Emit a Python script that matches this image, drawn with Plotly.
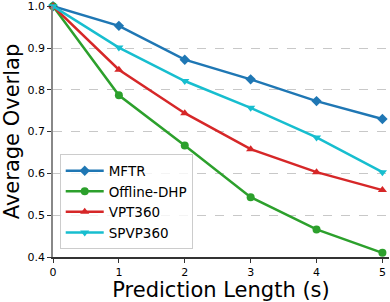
import plotly.graph_objects as go

x = [0, 1, 2, 3, 4, 5]
mftr = [1.0, 0.953, 0.872, 0.825, 0.773, 0.730]
offline_dhp = [1.0, 0.787, 0.667, 0.543, 0.466, 0.410]
vpt360 = [1.0, 0.848, 0.744, 0.658, 0.603, 0.560]
spvp360 = [1.0, 0.901, 0.821, 0.757, 0.686, 0.603]

series = [
    ("MFTR", mftr, "#1f77b4", "diamond"),
    ("Offline-DHP", offline_dhp, "#2ca02c", "circle"),
    ("VPT360", vpt360, "#d62728", "triangle-up"),
    ("SPVP360", spvp360, "#17becf", "triangle-down"),
]

fig = go.Figure()
for name, ys, color, sym in series:
    fig.add_trace(go.Scatter(
        x=x, y=ys, name=name, mode="lines+markers",
        line=dict(color=color, width=2.5),
        marker=dict(symbol=sym, size=8, color=color),
        cliponaxis=False,
    ))

fig.update_layout(
    width=390, height=302,
    margin=dict(l=53, r=1, t=6, b=45),
    paper_bgcolor="white", plot_bgcolor="white",
    font=dict(family="DejaVu Sans", color="black"),
    xaxis=dict(
        range=[0, 5.1], tickvals=x, ticktext=[str(v) for v in x],
        showgrid=False, zeroline=False, automargin=False,
        showline=True, linecolor="#333333", linewidth=1.5,
        ticks="outside", ticklen=4, tickcolor="#333333",
        tickfont=dict(size=11),
        title=dict(text="Prediction Length (s)", font=dict(size=21), standoff=3),
    ),
    yaxis=dict(
        range=[0.4, 1.0005], tickvals=[0.4, 0.5, 0.6, 0.7, 0.8, 0.9, 1.0],
        ticktext=["0.4", "0.5", "0.6", "0.7", "0.8", "0.9", "1.0"],
        showgrid=True, gridcolor="#c8c8c8", griddash="dash", gridwidth=1,
        zeroline=False, automargin=False,
        showline=True, linecolor="#888888", linewidth=1.5,
        ticks="outside", ticklen=4, tickcolor="#333333",
        tickfont=dict(size=11), ticklabeloverflow="allow",
        title=dict(text="Average Overlap", font=dict(size=21), standoff=3),
    ),
    legend=dict(
        x=0.02, y=0.03, xanchor="left", yanchor="bottom",
        bgcolor="rgba(255,255,255,0.8)", bordercolor="#cccccc", borderwidth=1,
        font=dict(size=13.5), tracegroupgap=0, itemwidth=38,
    ),
)

fig.write_html(
    "out.html",
    config={"displayModeBar": False},
    post_script="document.body.style.margin='0';document.body.style.overflow='hidden';",
)
